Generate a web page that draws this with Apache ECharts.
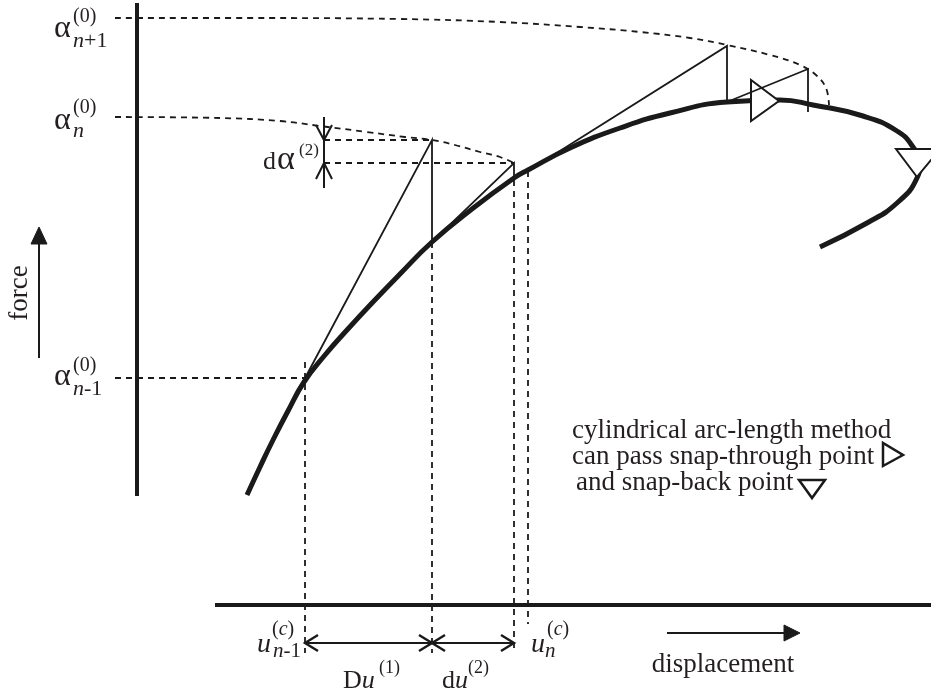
<!DOCTYPE html>
<html><head><meta charset="utf-8">
<script src="https://cdn.jsdelivr.net/npm/echarts@6/dist/echarts.min.js"></script>
<style>html,body{margin:0;padding:0;background:#fff}#c{width:931px;height:696px}</style>
</head><body><div id="c"></div>
<script>
// ---------------- diagram data (diagram units) ----------------
const equilibriumPath = [[247,495],[260,467],[273,440],[288,411],[304,382],[325,355],[347,330],[372,303],[400,274],[432,242],[472,209],[514,178],[528,170],[570,148],[620,128],[670,113],[727,102],[780,100],[813,105],[863,116],[897,131],[913,147],[920,163],[917,178],[897,203],[867,223],[820,247]];
const predictorStep1 = [[304,380],[432,140],[432,242],[514,163],[514,180]];
const predictorStep2 = [[528,171],[727,46],[727,102],[808,69],[808,112]];
const arcTop = [[115,18],[250,18],[400,19],[500,22],[580,27],[640,32],[690,38],[727,45],[770,55],[800,65],[816,75],[826,88],[829,105]];
const arcMid = [[115,117],[220,118],[280,121],[320,126],[367,132],[405,137],[432,140],[455,145],[480,152],[500,157],[514,163]];
const guideH = [[[115,378],[304,378]],[[324,140],[432,140]],[[324,163],[514,163]]];
const guideV = [[[305,362],[305,653]],[[432,242],[432,653]],[[514,180],[514,653]],[[528,171],[528,624]]];
const forceAxis = [[137,3],[137,496]];
const dispAxis = [[215,605],[931,605]];
const dAlphaShaft = [[324,117],[324,188]];
const dAlphaHeads = [[[316,125],[324,140],[332,125]],[[316,179],[324,163],[332,179]]];
const duShaft = [[305,643],[514,643]];
const duHeads = [[[318,635],[305,643],[318,651]],[[419,635],[432,643],[419,651]],[[445,635],[432,643],[445,651]],[[501,635],[514,643],[501,651]]];
const forceShaft = [[39,358],[39,240]];
const dispShaft = [[667,633],[788,633]];
const filledHeads = [[[39,227],[31,244],[47,244]],[[800,633],[784,625],[784,641]]];
const markerTriangles = [[[751,80],[751,121],[779,101]],[[896,149],[940,149],[917,177]]];
const legendTriangles = [[[883,443],[883,466],[903,455]],[[799,480],[825,480],[812,498]]];
// labels: [text (*italic*), x, baseline, size, align, rotate]
const labels = [
  ['α',54,35,32],['(0)',73,21,20],['*n*+1',73,45,22],
  ['α',54,127,32],['(0)',73,112,20],['*n*',73,135,22],
  ['α',54,383,32],['(0)',73,370,20],['*n*-1',73,393,22],
  ['d',263,167,26],['α',277,167,34],['(2)',299,154,17],
  ['*u*',257,650,28],['(*c*)',272,634,20],['*n*-1',273,655,21],
  ['*u*',531,650,28],['(*c*)',547,634,20],['*n*',545,655,21],
  ['D*u*',343,686,26],['(1)',379,672,18],
  ['d*u*',442,686,26],['(2)',468,672,18],
  ['displacement',723,670,27,'center'],
  ['cylindrical arc-length method',572,436,27],
  ['can pass snap-through point',572,462,27],
  ['and snap-back point',576,488,27],
  ['force',28,293,27,'center',90]
];
// ---------------------------------------------------------------
const INK = '#1a1a1a';
const FONT = '"Liberation Serif","DejaVu Serif",serif';
const series = [];
function addLine(pts, width, dashed, smooth, z) {
  series.push({type:'line', data:pts, symbol:'none', clip:false, smooth:smooth||false,
    silent:true, z:z||2, lineStyle:{color:INK, width:width, type:dashed?[6,5]:'solid', cap:'butt', join:'miter'}});
}
addLine(arcTop,1.8,true,0.4,1);
addLine(arcMid,1.8,true,0.4,1);
guideH.forEach(s=>addLine(s,1.8,true,false,1));
guideV.forEach(s=>addLine(s,1.8,true,false,1));
addLine(forceAxis,4,false,false,2);
addLine(dispAxis,4,false,false,2);
addLine(equilibriumPath,5,false,0.5,2);
addLine(predictorStep1,1.8,false,false,5);
addLine(predictorStep2,1.8,false,false,5);
addLine(dAlphaShaft,2,false,false,5);
dAlphaHeads.forEach(s=>addLine(s,2,false,false,5));
addLine(duShaft,2,false,false,5);
duHeads.forEach(s=>addLine(s,2.4,false,false,5));
addLine(forceShaft,2,false,false,5);
addLine(dispShaft,2,false,false,5);

function polySeries(list, fill, lw, z){
  series.push({type:'custom', silent:true, z:z, clip:false,
    data:list.map(p=>p[0]), encode:{x:0,y:1},
    renderItem:function(params, api){
      const pts = list[params.dataIndex].map(p=>api.coord(p));
      return {type:'polygon', shape:{points:pts}, style:{fill:fill, stroke:INK, lineWidth:lw, lineJoin:'miter'}};
    }});
}
polySeries(markerTriangles,'#fff',2,3);
polySeries(legendTriangles,'#fff',2.5,3);
polySeries(filledHeads,INK,1,5);

series.push({type:'custom', silent:true, z:6, clip:false,
  data:labels.map(l=>[l[1],l[2]]), encode:{x:0,y:1},
  renderItem:function(params, api){
    const l = labels[params.dataIndex];
    const size = l[3];
    const rot = l[5]||0;
    const p = api.coord([l[1], l[2]]);
    const parts = l[0].split('*');
    let txt = '';
    parts.forEach((s,i)=>{ if(s) txt += '{' + (i%2?'i':'r') + '|' + s + '}'; });
    let x = p[0], y = p[1] - 0.19*size;
    if (rot) { x = p[0] - 0.31*size; y = p[1]; }
    return {type:'text', x:x, y:y, rotation: rot*Math.PI/180,
      style:{text:txt, fill:'#231f20', align:l[4]||'left', verticalAlign:'middle',
        fontSize:size, fontFamily:FONT,
        rich:{i:{fontStyle:'italic',fontSize:size,fontFamily:FONT,fill:'#231f20'},
              r:{fontStyle:'normal',fontSize:size,fontFamily:FONT,fill:'#231f20'}}}};
  }});

const chart = echarts.init(document.getElementById('c'));
chart.setOption({
  animation:false,
  grid:{left:0,right:0,top:0,bottom:0},
  xAxis:{type:'value',min:0,max:931,show:false},
  yAxis:{type:'value',min:0,max:696,inverse:true,show:false},
  series:series
});
</script></body></html>
